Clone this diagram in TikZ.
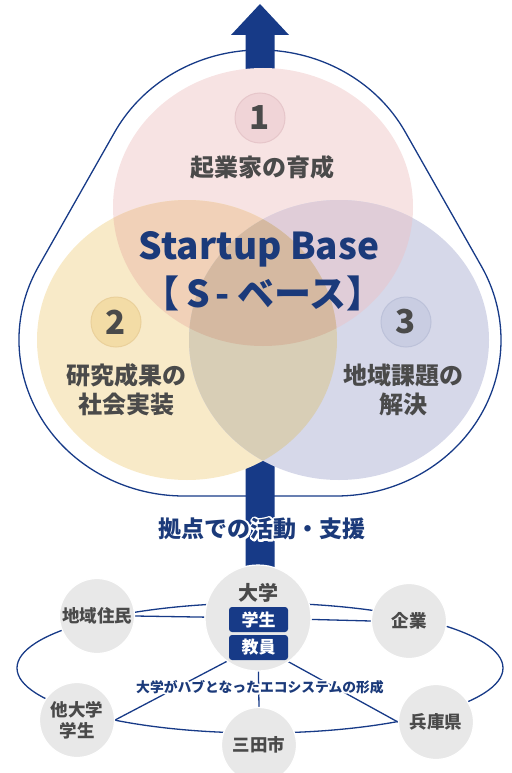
\documentclass[tikz,border=0pt]{standalone}
\usepackage{fontspec}
\setmainfont{Noto Sans CJK JP}
\usetikzlibrary{calc}
\usetikzlibrary{backgrounds}
\definecolor{navy}{HTML}{173A87}
\definecolor{inkblue}{HTML}{1B3A7A}
\definecolor{inkgrey}{HTML}{4A4A4A}
\definecolor{placegrey}{HTML}{E8E8E8}
\definecolor{vpink}{HTML}{F7E3E3}
\definecolor{vyellow}{HTML}{F8EAC8}
\definecolor{vblue}{HTML}{D6D8E9}
\definecolor{vpy}{HTML}{F1D1B8}
\definecolor{vpb}{HTML}{E0CDD8}
\definecolor{vyb}{HTML}{D8CEB6}
\definecolor{vall}{HTML}{D5B9A1}
\definecolor{onefill}{HTML}{F0D4D7}
\definecolor{oneline}{HTML}{E6C6CA}
\definecolor{twofill}{HTML}{F3DCA6}
\definecolor{twoline}{HTML}{EAD09A}
\definecolor{threefill}{HTML}{C9CDE2}
\definecolor{threeline}{HTML}{BCC1D9}
\def\pinkpath{(263,207) ellipse [x radius=150, y radius=139]}
\def\yellowpath{(187,340) ellipse [x radius=150, y radius=140]}
\def\bluepath{(339,340) ellipse [x radius=150, y radius=140]}
\def\ecotext{大学がハブとなったエコシステムの形成}
\def\kyotentext{拠点での活動・支援}
% white outline behind a label (stroked glyphs)
\newcommand\halo[2][4]{\special{pdf:literal direct 1 j 1 J 1 1 1 RG #1 w 1 Tr}#2\special{pdf:literal direct 0 Tr}}

\begin{document}
\begin{tikzpicture}[x=1pt,y=-1pt,
  every node/.style={inner sep=0pt},
  badge/.style={circle, minimum size=50pt, line width=1pt, text=inkgrey, font=\bfseries\fontsize{33}{33}\selectfont},
  venntext/.style={text=inkgrey, align=center, font=\bfseries\fontsize{24}{29}\selectfont},
  place/.style={circle, fill=placegrey, draw=white, line width=1.2pt, minimum size=75pt, text=inkgrey, align=center, font=\bfseries\fontsize{17.5}{21}\selectfont},
  tagbox/.style={fill=navy, rounded corners=3pt, minimum width=59pt, minimum height=25pt, text=white, font=\bfseries\fontsize{17}{17}\selectfont},
  link/.style={navy, line width=1.3pt}]
\useasboundingbox (0,0) rectangle (511,773);

\draw[link] (260,206) ++(-28:165 and 156) arc[start angle=-28, end angle=-152, x radius=165, y radius=156]
  -- ($(184,340)+(208:165 and 156)$) arc[start angle=208, end angle=90, x radius=165, y radius=156]
  -- ($(336,340)+(90:165 and 156)$) arc[start angle=90, end angle=-28, x radius=165, y radius=156] -- cycle;
\fill[navy] (245.5,600) -- (245.5,35) -- (231,35) -- (260,4) -- (289,35) -- (274.5,35) -- (274.5,600) -- cycle;

\fill[vpink] \pinkpath;
\fill[vyellow] \yellowpath;
\fill[vblue] \bluepath;
\begin{scope} \clip \pinkpath; \fill[vpy] \yellowpath; \end{scope}
\begin{scope} \clip \pinkpath; \fill[vpb] \bluepath; \end{scope}
\begin{scope} \clip \yellowpath; \fill[vyb] \bluepath; \end{scope}
\begin{scope} \clip \pinkpath; \clip \yellowpath; \fill[vall] \bluepath; \end{scope}

\node[badge, fill=onefill, draw=oneline] (one) at (260,118) {1};
\node[venntext] (ikusei) at (262,167) {起業家の育成};
\node[badge, fill=twofill, draw=twoline] (two) at (116,322) {2};
\node[venntext] (kenkyu) at (126,390) {研究成果の\\社会実装};
\node[badge, fill=threefill, draw=threeline] (three) at (406,322) {3};
\node[venntext] (chiiki3) at (403,390) {地域課題の\\解決};
\node[text=inkblue, font=\bfseries\fontsize{37}{37}\selectfont] (startup) at (259,249) {Startup Base};
\node[text=inkblue, font=\bfseries\fontsize{37}{37}\selectfont] (sbase) at (263,293) {【\hspace{7pt}S\hspace{5pt}-\hspace{8pt}ベース】};

\node[text=white, font=\bfseries\fontsize{23}{23}\selectfont] (kyotenhalo) at (262,529) {\halo{\kyotentext}};
\node[text=inkblue, font=\bfseries\fontsize{23}{23}\selectfont] (kyoten) at (kyotenhalo) {\kyotentext};

\node[place, minimum size=106pt] (hub) at (258,618) {};
\node[place] (chiiki) at (97,616) {地域住民};
\node[place] (kigyo) at (409,621) {企業};
\node[place] (tadai) at (77,720) {他大学\\学生};
\node[place] (mita) at (259,745) {三田市};
\node[place] (hyogo) at (436,722) {兵庫県};
\coordinate (hubfoot) at ($(hub)+(0,27)$);
\begin{scope}[on background layer]
\draw[link] (260,668) ellipse [x radius=243, y radius=65];
\draw[link] (hub) -- (chiiki.east);
\draw[link] (hub) -- (kigyo.west);
\draw[link] (hubfoot) -- (tadai.east);
\draw[link] (hubfoot) -- (mita.north);
\draw[link] (hubfoot) -- (hyogo.west);
\end{scope}
\node[text=inkgrey, font=\bfseries\fontsize{20}{20}\selectfont] (daigaku) at (258,593) {大学};
\node[tagbox] (gakusei) at (258.5,619.5) {学生};
\node[tagbox] (kyoin) at (258.5,647.5) {教員};

\node[text=white, font=\bfseries\fontsize{13.8}{13.8}\selectfont] (ecohalo) at (260,687) {\halo[3.5]{\ecotext}};
\node[text=inkblue, font=\bfseries\fontsize{13.8}{13.8}\selectfont] (eco) at (ecohalo) {\ecotext};
\end{tikzpicture}
\end{document}
